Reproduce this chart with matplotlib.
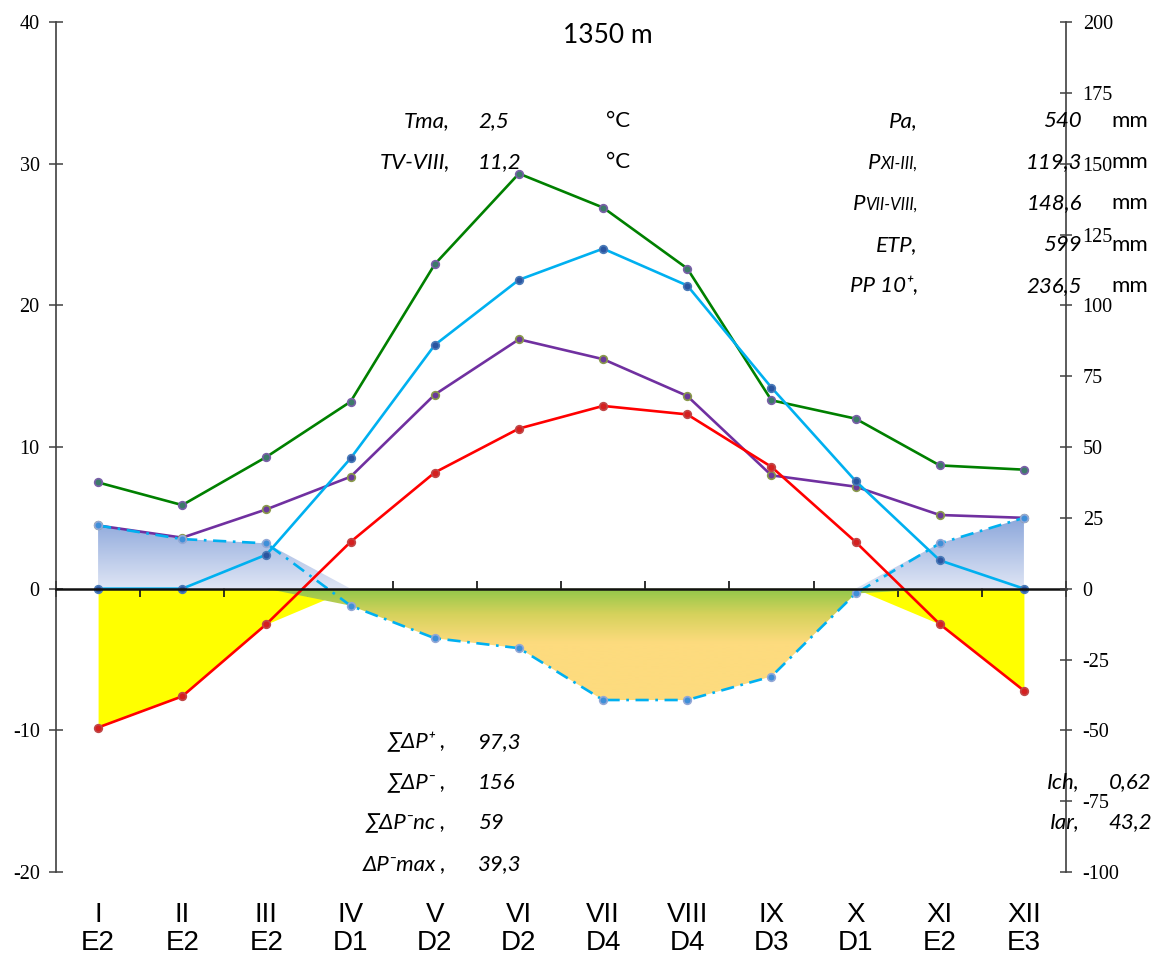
import numpy as np
import matplotlib
matplotlib.use("Agg")
import matplotlib.pyplot as plt
from matplotlib.patches import Polygon
from matplotlib.colors import LinearSegmentedColormap
from matplotlib.text import Annotation
from matplotlib import transforms

plt.rcParams["axes.unicode_minus"] = False

# ---- data ----
months = ["I", "II", "III", "IV", "V", "VI", "VII", "VIII", "IX", "X", "XI", "XII"]
classes = ["E2", "E2", "E2", "D1", "D2", "D2", "D4", "D4", "D3", "D1", "E2", "E3"]

# left axis (deg C scale)
temp_c = [-9.8, -7.6, -2.5, 3.3, 8.2, 11.3, 12.9, 12.3, 8.6, 3.3, -2.5, -7.2]
precip_scaled = [7.5, 5.9, 9.3, 13.2, 22.9, 29.3, 26.9, 22.6, 13.3, 12.0, 8.7, 8.4]

# right axis (mm)
precip_mm = [22.3, 18.0, 28.0, 39.5, 68.5, 88.0, 81.0, 68.0, 40.0, 36.0, 26.0, 25.0]
etp_mm = [0.0, 0.0, 12.0, 46.0, 86.0, 109.0, 120.0, 107.0, 71.0, 38.0, 10.0, 0.0]
diff_mm = [22.3, 17.5, 16.0, -6.0, -17.5, -21.0, -39.3, -39.3, -31.0, -1.7, 16.0, 25.0]

title = "1350 m"
temp_stats = [("Tma,", "2,5"), ("TV-VIII,", "11,2")]
precip_stats = [("Pa,", "540"), (("P", "XI-III,"), "119,3"), (("P", "VII-VIII,"), "148,6"),
                ("ETP,", "599"), ("PP 10\u207a,", "236,5")]
balance_stats = [("\u2211\u0394P\u207a ,", "97,3"), ("\u2211\u0394P\u207b ,", "156"),
                 ("\u2211\u0394P\u207bnc ,", "59"), ("\u0394P\u207bmax ,", "39,3")]
index_stats = [("Ich,", "0,62"), ("Iar,", "43,2")]

W, H = 1156, 956
fx = lambda px: px / W
fy = lambda py: 1 - py / H

TXT = ["Lato", "DejaVu Sans"]
SERIF = "Liberation Serif"

fig = plt.figure(figsize=(W / 100, H / 100), dpi=100)
ax = fig.add_axes([fx(56), fy(872), (1066 - 56) / W, (872 - 22) / H])
ax2 = ax.twinx()

x = np.arange(len(months))
temp = np.array(temp_c)
diff = np.array(diff_mm)

# yellow: frost months (temperature below 0)
ax.fill_between(x, np.minimum(temp, 0), 0, color="#ffff00", lw=0, zorder=1)

# gradient fills for water balance (clipped to polygons in mm space)
def grad_fill(vals, extent, stops):
    verts = [(x[0], 0)] + list(zip(x, vals)) + [(x[-1], 0)]
    poly = Polygon(verts, closed=True, fill=False, edgecolor="none",
                   transform=ax2.transData)
    ax.add_patch(poly)
    cmap = LinearSegmentedColormap.from_list("g", stops)
    grad = np.linspace(0, 1, 256).reshape(-1, 1)
    im = ax.imshow(grad, extent=extent, origin="lower", aspect="auto",
                   cmap=cmap, interpolation="bilinear", zorder=2)
    im.set_clip_path(poly)

grad_fill(np.minimum(diff, 0), (-0.5, 11.5, -8, 0),
          [(0.0, "#fddb7e"), (0.52, "#fddb7e"), (0.77, "#d6d25c"), (1.0, "#90c749")])
grad_fill(np.maximum(diff, 0), (-0.5, 11.5, 0, 5),
          [(0.0, "#e0e6f5"), (1.0, "#8ca7db")])

ms = 5.5
ax.plot(x, precip_scaled, "-o", color="#008000", lw=1.9, ms=ms,
        mfc="#3d7a6a", mec="#7a5fa8", mew=1.2, zorder=3)
ax.plot(x, precip_mm, "-o", color="#7030a0", lw=1.9, ms=ms,
        mfc="#6a3a9a", mec="#8a9a4a", mew=1.2, zorder=4, transform=ax2.transData)
ax.plot(x, diff_mm, "-o", color="#00b0f0", lw=1.9, ms=ms, dashes=(5, 2.5, 1, 2.5),
        mfc="#3f8fd8", mec="#93a8d6", mew=1.2, zorder=5, transform=ax2.transData)
ax.plot(x, temp_c, "-o", color="#ff0000", lw=1.9, ms=ms,
        mfc="#d42020", mec="#c04848", mew=1.2, zorder=6)
ax.plot(x, etp_mm, "-o", color="#00b0f0", lw=1.9, ms=ms,
        mfc="#2a55a0", mec="#4a7ab8", mew=1.2, zorder=7, transform=ax2.transData)

# axes styling
ax.set_xlim(-0.5, 11.5)
ax.set_ylim(-20, 40)
ax2.set_ylim(-100, 200)

for s in ["top", "right"]:
    ax.spines[s].set_visible(False)
for s in ["top", "left", "bottom"]:
    ax2.spines[s].set_visible(False)
ax.spines["bottom"].set_position(("data", 0))
ax.spines["bottom"].set_linewidth(1.8)
ax.spines["bottom"].set_color("#111111")
ax.spines["bottom"].set_zorder(8)
ax.spines["left"].set_linewidth(1.2)
ax.spines["left"].set_color("#404040")
ax2.spines["right"].set_linewidth(1.2)
ax2.spines["right"].set_color("#404040")

ax.set_xticks(np.arange(-0.5, 12, 1))
ax.tick_params(axis="x", direction="inout", length=12, width=1.3, color="#202020",
               labelbottom=False)
ax.set_yticks(np.arange(-20, 41, 10))
ax.tick_params(axis="y", direction="inout", length=9.5, width=1.1, color="#404040",
               labelsize=14.5, pad=7)
ax2.set_yticks(np.arange(-100, 201, 25))
ax2.tick_params(axis="y", direction="inout", length=8, width=1.1, color="#404040",
                labelsize=14.5, pad=8)
for lab in ax.get_yticklabels() + ax2.get_yticklabels():
    lab.set_fontfamily(SERIF)

# month labels under the chart
bt = transforms.blended_transform_factory(ax.transData, fig.transFigure)
for i, (m, c) in enumerate(zip(months, classes)):
    ax.text(i, fy(922), m, transform=bt, ha="center", va="baseline",
            fontsize=20, family="Liberation Sans", clip_on=False)
    ax.text(i, fy(950), c, transform=bt, ha="center", va="baseline",
            fontsize=20, family="Liberation Sans", clip_on=False)

fig.text(fx(608), fy(43), title, ha="center", va="baseline", fontsize=19, family=TXT)

FS = 16
ikw = dict(fontsize=FS, family=TXT, style="italic", va="baseline")
for k, (lab, val) in enumerate(temp_stats):
    yb = fy(127 + 41 * k)
    fig.text(fx(450), yb, lab, ha="right", **ikw)
    fig.text(fx(478), yb, val, ha="left", **ikw)
    fig.text(fx(606), yb, "\u00b0C", ha="left", fontsize=FS, family=TXT, va="baseline")

for k, (lab, val) in enumerate(precip_stats):
    yb = fy(127 + 41.2 * k)
    if isinstance(lab, tuple):
        small = fig.text(fx(918), yb, lab[1], ha="right", fontsize=12, family=TXT,
                         style="italic", va="baseline")
        fig.add_artist(Annotation(
            lab[0], xy=(0, 0), xycoords=small, xytext=(0, -1), textcoords="offset points",
            ha="right", va="bottom", fontsize=FS, family=TXT, style="italic"))
    else:
        fig.text(fx(918), yb, lab, ha="right", **ikw)
    fig.text(fx(1082), yb, val, ha="right", **ikw)
    fig.text(fx(1111), yb, "mm", ha="left", fontsize=FS, family=TXT, va="baseline")

for k, (lab, val) in enumerate(balance_stats):
    yb = fy(748 + 40.7 * k)
    fig.text(fx(446), yb, lab, ha="right", **ikw)
    fig.text(fx(478), yb, val, ha="left", **ikw)

for k, (lab, val) in enumerate(index_stats):
    yb = fy(788 + 40 * k)
    fig.text(fx(1080), yb, lab, ha="right", **ikw)
    fig.text(fx(1152), yb, val, ha="right", **ikw)

fig.savefig("out.png", dpi=100)
